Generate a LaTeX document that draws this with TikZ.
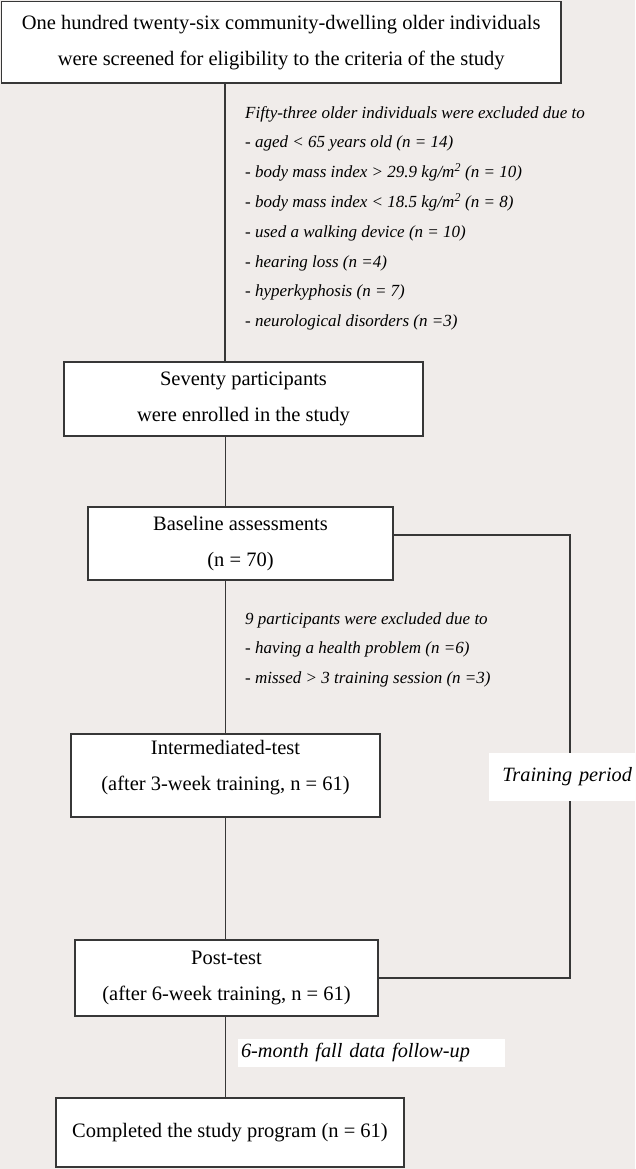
\documentclass[tikz,border=0pt]{standalone}
\usepackage{fontspec}
\setmainfont{Liberation Serif}
\usetikzlibrary{calc}
\definecolor{bgc}{RGB}{240,236,234}
\definecolor{linec}{RGB}{55,55,55}
\begin{document}
\begin{tikzpicture}[x=1pt,y=-1pt,
  box/.style={draw=linec, line width=1.3pt, fill=white, inner sep=0pt, align=center, font=\fontsize{20.5}{36}\selectfont},
  conn/.style={draw=linec, line width=1.2pt},
  note/.style={inner sep=0pt, anchor=north west, align=left, font=\fontsize{17}{29.8}\selectfont\itshape},
  tag/.style={fill=white, inner sep=3pt, font=\fontsize{20.3}{24}\selectfont\itshape}]
\fill[bgc] (0,0) rectangle (635,1169);
\useasboundingbox (0,0) rectangle (635,1169);

\node[box, minimum width=559.5pt, minimum height=81.5pt] (screen) at (281.25,42.25)
  {One hundred twenty-six community-dwelling older individuals\\were screened for eligibility to the criteria of the study};
\node[box, minimum width=359pt, minimum height=74pt] (enrol) at (243.5,399)
  {Seventy participants\\were enrolled in the study};
\node[box, minimum width=305pt, minimum height=73pt] (base) at (240.5,543.5)
  {Baseline assessments\\(n = 70)};
\node[box, minimum width=309pt, minimum height=83pt, text depth=20pt] (inter) at (225.5,775.5)
  {Intermediated-test\\(after 3-week training, n = 61)};
\node[box, minimum width=303pt, minimum height=76pt] (post) at (226.5,978)
  {Post-test\\(after 6-week training, n = 61)};
\node[box, minimum width=348pt, minimum height=69pt] (done) at (230,1132.5)
  {Completed the study program (n = 61)};

\node[note] (excl1) at (245,106)
  {Fifty-three older individuals were excluded due to\\
   - aged < 65 years old (n = 14)\\
   - body mass index > 29.9 kg/m\textsuperscript{2} (n = 10)\\
   - body mass index < 18.5 kg/m\textsuperscript{2} (n = 8)\\
   - used a walking device (n = 10)\\
   - hearing loss (n =4)\\
   - hyperkyphosis (n = 7)\\
   - neurological disorders (n =3)};
\node[note] (excl2) at (245,612)
  {9 participants were excluded due to\\
   - having a health problem (n =6)\\
   - missed > 3 training session (n =3)};

\coordinate (spine) at (225.5,0);
\draw[conn] (screen.south -| 225,0) -- (enrol.north -| 225,0);
\draw[conn] (enrol.south -| spine) -- (base.north -| spine);
\draw[conn] (base.south -| spine) -- (inter.north -| spine);
\draw[conn] (inter.south -| spine) -- (post.north -| spine);
\draw[conn] (post.south -| spine) -- (done.north -| spine);

\coordinate (rt) at (570,535);
\coordinate (rb) at (570,978);
\draw[conn] ([yshift=8.5pt]base.east) -- (rt) -- (rb) -- (post.east);

\node[tag, text width=140pt, align=right, minimum height=48pt] (train) at (562,777) {Training period};
\node[tag, text width=261pt, align=left, minimum height=28pt] (follow) at (371.5,1053) {6-month fall data follow-up};
\end{tikzpicture}
\end{document}
